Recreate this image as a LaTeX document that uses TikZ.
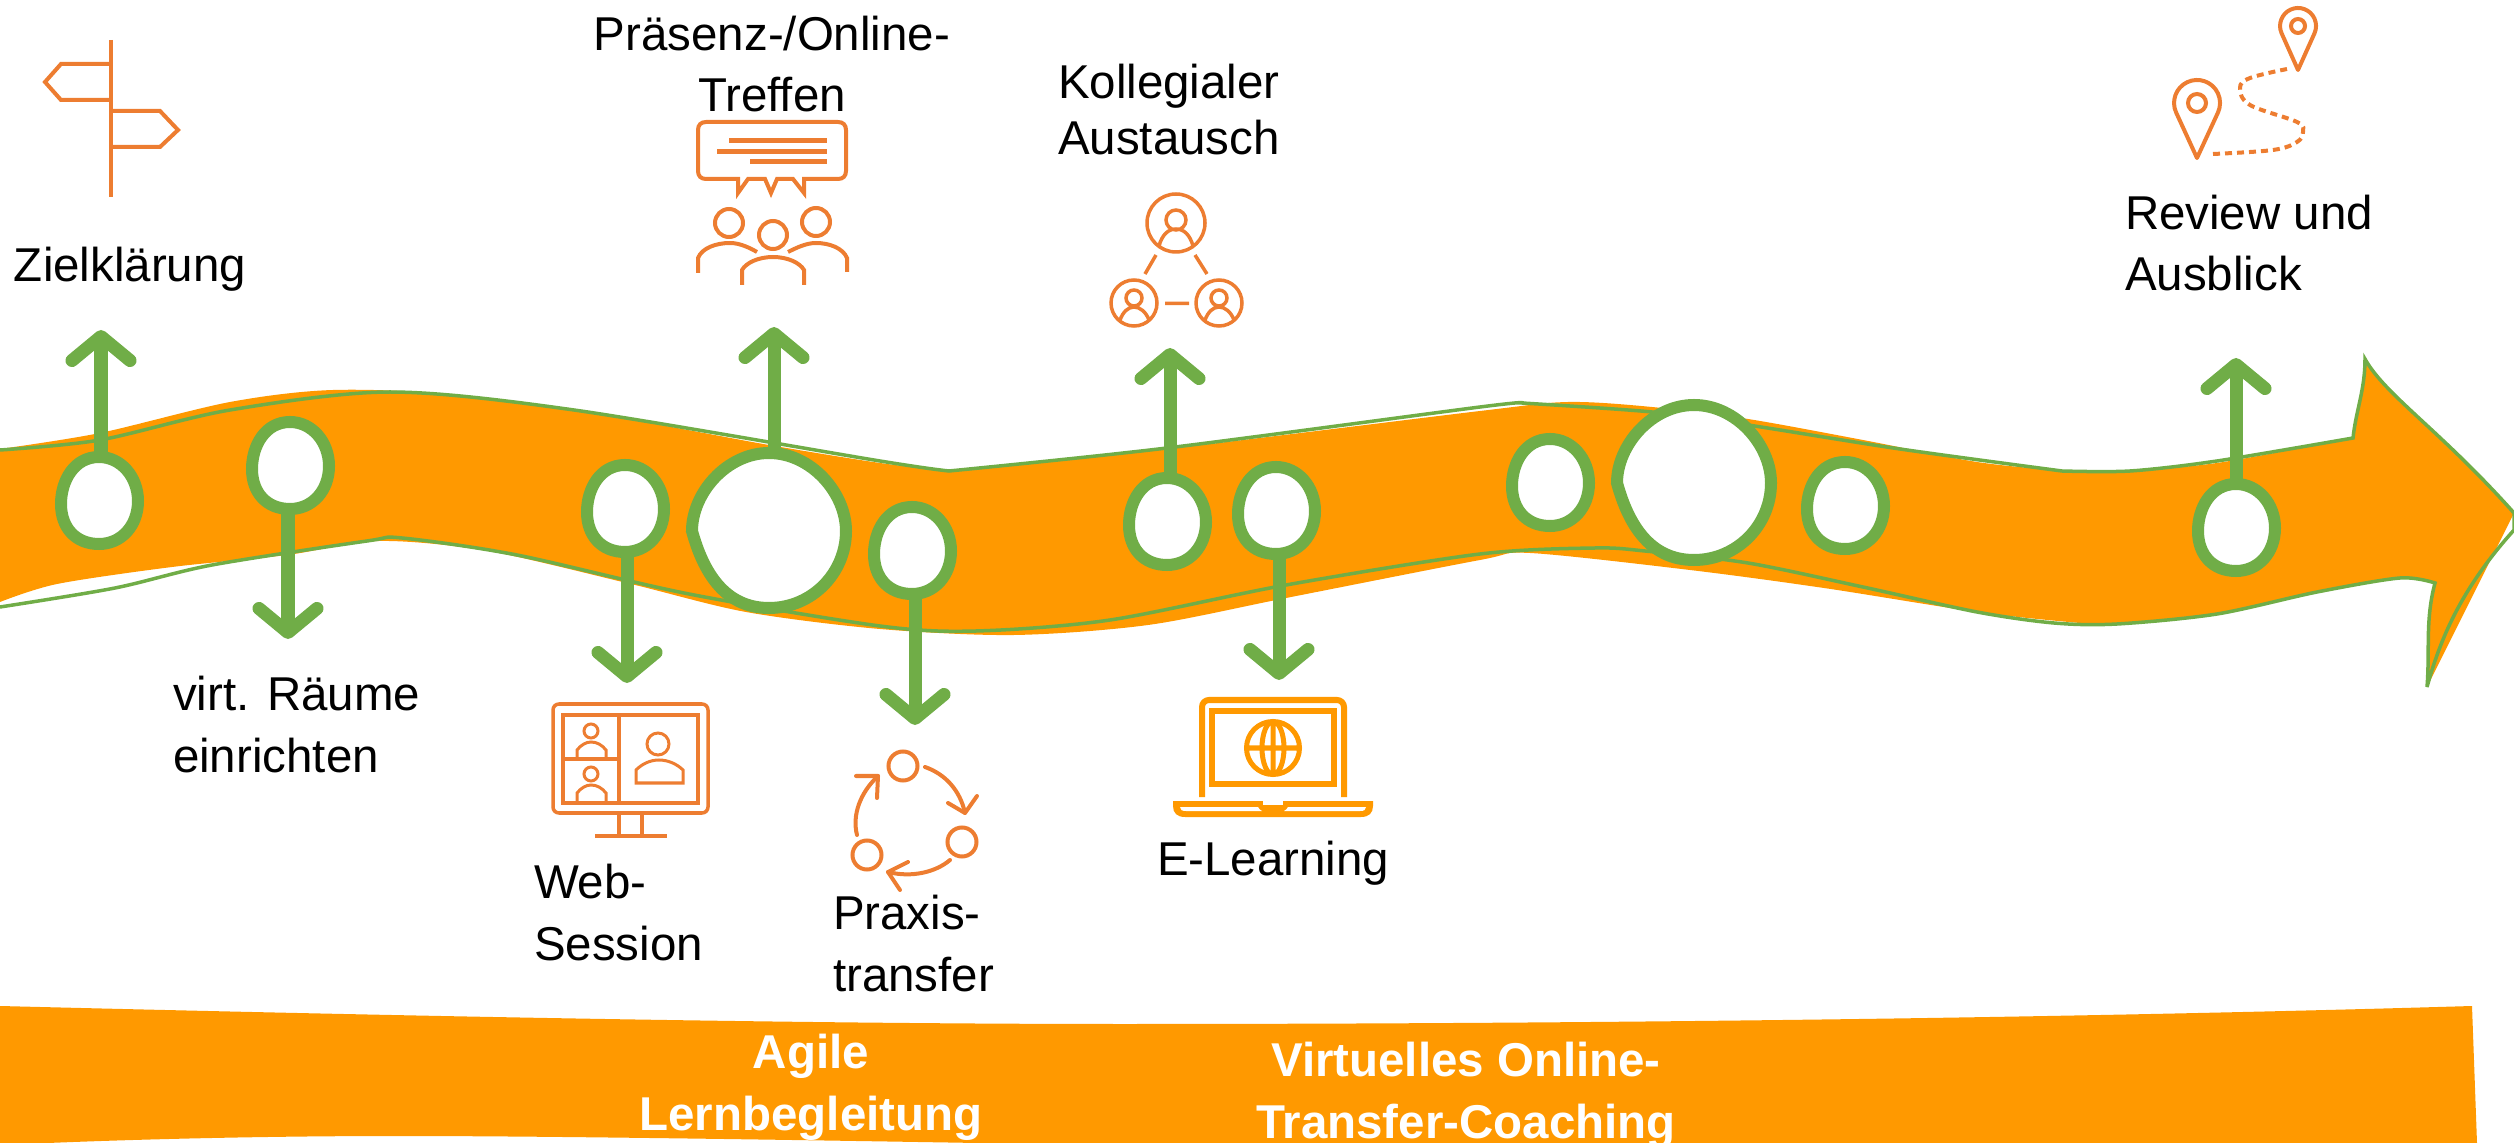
\documentclass[tikz,border=0pt]{standalone}
\usepackage{fontspec}
\setmainfont{Liberation Sans}
\usetikzlibrary{shapes.geometric,arrows.meta}
\definecolor{band}{HTML}{FF9900}
\definecolor{lime}{HTML}{70AD47}
\definecolor{ico}{HTML}{ED7D31}
\tikzset{
  ring/.style={ellipse,inner sep=0pt,outer sep=0pt,minimum width=.77cm,minimum height=.88cm},
  bigring/.style={ring,minimum width=1.54cm,minimum height=1.54cm},
  blobline/.style={draw=lime,fill=white,line width=.12cm},
  conn/.style={draw=lime,line width=.13cm,-{Straight Barb[round,length=.24cm,width=.58cm]}},
  lab/.style={font=\fontsize{13.5pt}{17.36pt}\selectfont,inner sep=0pt,outer sep=0pt,align=left,text=black},
  blab/.style={font=\fontsize{13.5pt}{17.36pt}\selectfont\bfseries,inner sep=0pt,outer sep=0pt,align=center,text=white},
  icon/.style={draw=ico,line width=.04cm},
  lap/.style={draw=band,line width=.06cm},
  edgeline/.style={draw=lime,line width=.035cm}
}
\newcommand{\smallblob}[1]{\path[blobline,shift={(#1)}] (0,-44) .. controls (22,-44) and (39,-24) .. (39,0) .. controls (39,25) and (22,43) .. (0,43) .. controls (-23,43) and (-38,27) .. (-38,3) .. controls (-38,-20) and (-25,-44) .. (0,-44) -- cycle;}
\newcommand{\bigblob}[1]{\path[blobline,shift={(#1)}] (0,-78) .. controls (42,-78) and (77,-38) .. (77,0) .. controls (77,42) and (43,77) .. (0,77) .. controls (-45,77) and (-66,40) .. (-77,0) .. controls (-77,-38) and (-42,-78) .. (0,-78) -- cycle;}
\begin{document}
\begin{tikzpicture}[x=0.01cm,y=-0.01cm]
\useasboundingbox (0,0) rectangle (2514,1143);
% bottom band
\fill[band] (0,1006) .. controls (400,1016) and (800,1024) .. (1122,1024)
  .. controls (1500,1024) and (2000,1020) .. (2472,1006)
  -- (2477,1143) -- (978,1143) .. controls (800,1140) and (550,1136) .. (400,1136)
  .. controls (250,1136) and (120,1140) .. (48,1143) -- (0,1143) -- cycle;
% ribbon
\fill[band] plot[smooth,tension=.5] coordinates {(0,449) (100,433) (230,402) (333,390) (459,395) (631,420) (769,445) (880,463) (949,471)}
  -- plot[smooth,tension=.5] coordinates {(949,471) (1167,449) (1480,411) (1568,402) (1652,407) (1748,419) (1863,440) (1977,462) (2060,470) (2130,470) (2217,463) (2353,438)}
  .. controls (2356,410) and (2365,390) .. (2365,359)
  .. controls (2385,395) and (2440,430) .. (2514,513)
  -- (2427,687) .. controls (2430,650) and (2425,620) .. (2435,583)
  -- plot[smooth,tension=.5] coordinates {(2435,583) (2400,578) (2317,592) (2217,614) (2117,624) (2080,623) (1977,612) (1824,588) (1690,570) (1530,553) (1480,560) (1286,598) (1148,625) (1014,635) (880,629) (746,612) (631,584) (488,551) (379,541) (287,555) (172,567) (57,584) (0,602)} -- cycle;
\draw[edgeline] plot[smooth,tension=.5] coordinates {(0,450) (100,440) (230,410) (390,392) (574,410) (880,461) (949,471)}
  -- plot[smooth,tension=.5] coordinates {(949,471) (1167,448) (1480,407) (1522,403)}
  -- plot[smooth,tension=.5] coordinates {(1522,403) (1652,412) (1748,425) (1900,449) (2062,471)}
  -- plot[smooth,tension=.5] coordinates {(2062,471) (2130,471) (2217,461) (2353,438)}
  .. controls (2356,410) and (2365,390) .. (2365,359)
  .. controls (2385,395) and (2440,430) .. (2514,513) -- (2514,530)
  .. controls (2460,590) and (2440,640) .. (2427,687)
  .. controls (2430,650) and (2425,620) .. (2435,583)
  -- plot[smooth,tension=.5] coordinates {(2435,583) (2400,578) (2317,592) (2217,614) (2117,624) (2054,623) (1977,612) (1863,587) (1748,563) (1645,551) (1595,548) (1480,554) (1286,585) (1110,620) (976,631) (880,626) (689,594) (517,555) (402,538) (367,541) (212,565) (115,588) (0,607)};
% rings
\node[ring] (n1) at (99,501) {};
\node[ring] (n2) at (290,466) {};
\node[ring] (n3) at (625,509) {};
\node[bigring] (b1) at (769,531) {};
\node[ring] (n4) at (912,551) {};
\node[ring] (n5) at (1167,522) {};
\node[ring] (n6) at (1276,511) {};
\node[ring] (n7) at (1550,483) {};
\node[bigring] (b2) at (1694,483) {};
\node[ring] (n8) at (1845,506) {};
\node[ring] (n9) at (2236,528) {};
\smallblob{n1}\smallblob{n2}\smallblob{n3}\bigblob{b1}\smallblob{n4}\smallblob{n5}\smallblob{n6}\smallblob{n7}\bigblob{b2}\smallblob{n8}\smallblob{n9}
% arrow ends
\coordinate (t1) at (101,330);
\coordinate (t2) at (288,639);
\coordinate (t3) at (627,683);
\coordinate (t4) at (774,327);
\coordinate (t5) at (915,725);
\coordinate (t6) at (1170,348);
\coordinate (t7) at (1279,680);
\coordinate (t8) at (2236,358);
\draw[conn] (n1.north -| t1) -- (t1);
\draw[conn] (n2.south -| t2) -- (t2);
\draw[conn] (n3.south -| t3) -- (t3);
\draw[conn] (b1.north -| t4) -- (t4);
\draw[conn] (n4.south -| t5) -- (t5);
\draw[conn] (n5.north -| t6) -- (t6);
\draw[conn] (n6.south -| t7) -- (t7);
\draw[conn] (n9.north -| t8) -- (t8);
% labels
\node[lab,anchor=base west] (lz) at (14,282) {Zielklärung};
\node[lab,anchor=base,align=center] (lp) at (772,112) {Präsenz-/Online-\\Treffen};
\node[lab,anchor=base west,font=\fontsize{13.5pt}{16.2pt}\selectfont] (lk) at (1058,155) {Kollegialer\\Austausch};
\node[lab,anchor=base west] (lr) at (2125,291) {Review und\\Ausblick};
\node[lab,anchor=base west] (lv) at (173,772) {virt. Räume\\einrichten};
\node[lab,anchor=base west] (lw) at (534,960) {Web-\\Session};
\node[lab,anchor=base west] (lx) at (833,991) {Praxis-\\transfer};
\node[lab,anchor=base west] (le) at (1157,876) {E-Learning};
\node[blab,anchor=base] (ba) at (811,1130) {Agile\\Lernbegleitung};
\node[blab,anchor=base] (bv) at (1466,1138) {Virtuelles Online-\\Transfer-Coaching};
% signpost
\draw[icon] (111,40) -- (111,197);
\draw[icon] (111,64) -- (61,64) -- (45,82) -- (61,100) -- (111,100);
\draw[icon] (111,111) -- (160,111) -- (178,130) -- (160,147) -- (111,147);
% meeting icon
\draw[icon,line join=miter] (706,122) -- (838,122) .. controls (843,122) and (846,125) .. (846,130) -- (846,171)
  .. controls (846,176) and (843,179) .. (838,179) -- (804,179) -- (804,193) -- (793,179) -- (777,179) -- (771,193) -- (765,179) -- (748,179) -- (738,193) -- (738,179) -- (706,179)
  .. controls (701,179) and (698,176) .. (698,171) -- (698,130) .. controls (698,125) and (701,122) .. (706,122) -- cycle;
\draw[ico,line width=.05cm] (729,141) -- (827,141) (717,152) -- (827,152) (750,162) -- (827,162);
\draw[icon] (729,223) circle[radius=14] (816,222) circle[radius=14] (773,235) circle[radius=14];
\draw[icon] (698,273) -- (698,258) .. controls (702,248) and (716,243) .. (730,243) .. controls (740,243) and (750,248) .. (757,252);
\draw[icon] (847,272) -- (847,258) .. controls (843,248) and (829,243) .. (816,243) .. controls (806,243) and (796,248) .. (788,252);
\draw[icon] (742,285) -- (742,270) .. controls (746,263) and (758,257) .. (773,257) .. controls (788,257) and (800,263) .. (804,270) -- (804,285);
% collaboration icon
\draw[icon,line width=.035cm] (1176,223) circle[radius=29] (1176,220) circle[radius=10]
  (1159,246) .. controls (1162,235) and (1168,229) .. (1176,229) .. controls (1184,229) and (1190,235) .. (1193,246);
\draw[icon,line width=.035cm] (1134,303) circle[radius=23] (1134,298) circle[radius=8]
  (1120,320) .. controls (1123,312) and (1128,307) .. (1134,307) .. controls (1140,307) and (1146,312) .. (1149,320);
\draw[icon,line width=.035cm] (1219,303) circle[radius=23] (1219,298) circle[radius=8]
  (1205,320) .. controls (1208,312) and (1213,307) .. (1219,307) .. controls (1225,307) and (1231,312) .. (1234,320);
\draw[icon,line width=.035cm] (1156,255) -- (1145,274) (1195,255) -- (1207,274) (1165,303.5) -- (1189,303.5);
% map pins
\draw[icon,line join=round] (2197,158) -- ++(-20.8,-45.3) arc[start angle=155,end angle=385,radius=23] -- cycle;
\draw[icon] (2197,103) circle[radius=9];
\draw[icon,line join=round] (2298,70) -- ++(-16.4,-36.7) arc[start angle=156,end angle=384,radius=18] -- cycle;
\draw[icon] (2298,26) circle[radius=7];
\draw[ico,line width=.04cm,dash pattern=on .07cm off .05cm] plot[smooth,tension=.6] coordinates {(2213,154) (2273,150) (2297,142) (2303,132) (2297,122) (2250,105) (2240,88) (2250,78) (2287,69)};
% web session icon
\draw[icon,line width=.035cm,rounded corners=.06cm] (553,704) rectangle (708,813);
\draw[icon,line width=.035cm] (563,715) rectangle (698,803) (619,715) -- (619,803) (563,759) -- (619,759);
\draw[icon,line width=.03cm] (591,731) circle[radius=7] (591,774) circle[radius=7]
  (577,759) -- (577,750) .. controls (581,745) and (586,742) .. (591,742) .. controls (597,742) and (602,745) .. (606,750) -- (606,759)
  (577,803) -- (577,793) .. controls (581,788) and (586,785) .. (591,785) .. controls (597,785) and (602,788) .. (606,793) -- (606,803);
\draw[icon,line width=.03cm] (658,744) circle[radius=11]
  (636,783) -- (636,770) .. controls (642,764) and (650,760) .. (659,760) .. controls (668,760) and (677,764) .. (683,770) -- (683,783) -- cycle;
\draw[icon,line width=.035cm] (619,813) -- (619,836) (642,813) -- (642,836) (595,836) -- (667,836);
% cycle icon
\draw[icon] (903,766) circle[radius=14.5] (962,842) circle[radius=14.5] (867,855) circle[radius=14.5];
\draw[icon,line cap=round,line join=round] (925,767) .. controls (945,774) and (960,790) .. (965,813);
\draw[icon,line cap=round,line join=round] (948,803) -- (965,813) -- (977,796);
\draw[icon,line cap=round,line join=round] (950,860) .. controls (936,872) and (912,878) .. (888,872);
\draw[icon,line cap=round,line join=round] (908,862) -- (888,872) -- (900,890);
\draw[icon,line cap=round,line join=round] (857,835) .. controls (852,815) and (860,793) .. (878,776);
\draw[icon,line cap=round,line join=round] (856,776) -- (878,776) -- (877,798);
% laptop icon
\draw[lap,rounded corners=.07cm] (1202,797) -- (1202,700) -- (1344,700) -- (1344,797);
\draw[lap] (1212,711) rectangle (1334,784);
\draw[band,line width=.05cm] (1273,748) circle[radius=26.5] (1273,748) ellipse[x radius=11,y radius=26.5] (1273,721) -- (1273,775) (1247,748) -- (1299,748);
\fill[band] (1173,801) -- (1373,801) -- (1373,806) .. controls (1373,813) and (1369,817) .. (1361,817) -- (1185,817) .. controls (1177,817) and (1173,813) .. (1173,806) -- cycle;
\fill[white] (1180,807) -- (1258,807) .. controls (1259,809) and (1260,810) .. (1262,811) -- (1186,811) .. controls (1182,811) and (1180,810) .. (1180,807) -- cycle;
\fill[white] (1366,807) -- (1288,807) .. controls (1287,809) and (1286,810) .. (1284,811) -- (1360,811) .. controls (1364,811) and (1366,810) .. (1366,807) -- cycle;
\fill[white] (1263,800) rectangle (1283,805);
\end{tikzpicture}
\end{document}
